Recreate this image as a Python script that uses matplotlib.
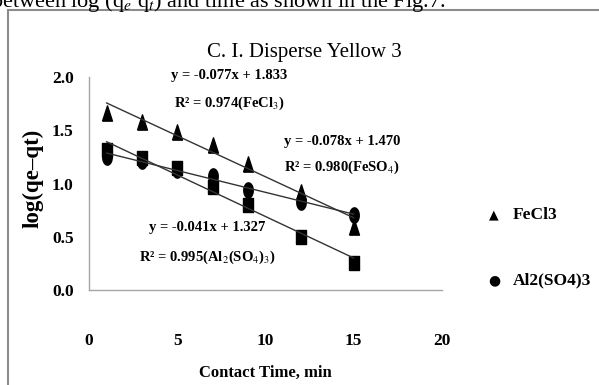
import numpy as np
import matplotlib
matplotlib.use("Agg")
import matplotlib.pyplot as plt
from matplotlib.lines import Line2D

# ---- data ----
time_min = [1, 3, 5, 7, 9, 12, 15]
fecl3 = [1.66, 1.58, 1.48, 1.36, 1.18, 0.92, 0.59]
al2so43 = [1.25, 1.21, 1.13, 1.07, 0.94, 0.83, 0.70]
feso4 = [1.31, 1.24, 1.15, 0.97, 0.80, 0.50, 0.25]

fit_fecl3 = (-0.077, 1.833)
fit_feso4 = (-0.078, 1.470)
fit_al = (-0.041, 1.327)
fit_range = [1, 15]

x_ticks = [0, 5, 10, 15, 20]
y_ticks = [0.0, 0.5, 1.0, 1.5, 2.0]

title = "C. I. Disperse Yellow 3"
xlabel = "Contact Time, min"
ylabel = "log(qe\u2013qt)"

W, H = 599, 385
fig = plt.figure(figsize=(W / 100, H / 100), dpi=100)
plt.rcParams['font.family'] = ['Liberation Serif', 'DejaVu Serif']
plt.rcParams['mathtext.fontset'] = 'stix'

ax = fig.add_axes([89 / W, 1 - 290 / H, 353 / W, 213 / H])
ax.set_xlim(0, 20)
ax.set_ylim(0, 2.0)

# tall markers (the original is horizontally compressed)
t = np.linspace(0, 2 * np.pi, 40)
ellipse = list(zip(0.62 * np.cos(t), np.sin(t)))
tri = [(-0.65, -1), (0.65, -1), (0, 1), (-0.65, -1)]
rect = [(-0.65, -1), (0.65, -1), (0.65, 1), (-0.65, 1), (-0.65, -1)]

xs = np.array(fit_range, dtype=float)
for (m, b) in (fit_fecl3, fit_feso4, fit_al):
    ax.plot(xs, m * xs + b, color='#333333', lw=1.0, zorder=3)

ax.plot(time_min, fecl3, ls='none', marker=tri, ms=11, color='black', zorder=2)
ax.plot(time_min, al2so43, ls='none', marker=ellipse, ms=11, color='black', zorder=2)
ax.plot(time_min, feso4, ls='none', marker=rect, ms=10, color='black', zorder=2)

for s in ('top', 'right'):
    ax.spines[s].set_visible(False)
for s in ('left', 'bottom'):
    ax.spines[s].set_color('#a6a6a6')
    ax.spines[s].set_linewidth(1.0)

ax.set_xticks(x_ticks)
ax.set_xticklabels([str(v) for v in x_ticks])
ax.set_yticks(y_ticks)
ax.set_yticklabels([f"{v:.1f}" for v in y_ticks])
ax.tick_params(axis='both', length=0, labelsize=12.5)
ax.tick_params(axis='y', pad=11)
ax.tick_params(axis='x', pad=31)
for lab in ax.get_xticklabels() + ax.get_yticklabels():
    lab.set_fontweight('bold')

def px(x, y):
    return (x / W, 1 - y / H)

fig.text(*px(304, 53), title, ha='center', va='center', fontsize=15)
fig.text(*px(265, 373), xlabel, ha='center', va='center', fontsize=12,
         fontweight='bold')
fig.text(*px(33, 178), ylabel, ha='center', va='center', rotation=90,
         fontsize=16.5, fontweight='bold')

ann_kw = dict(ha='center', va='center', fontsize=10.5, fontweight='bold')
fig.text(*px(229, 76), "y = -0.077x + 1.833", **ann_kw)
fig.text(*px(229, 103), "R\u00b2 = 0.974(FeCl$_3$)", **ann_kw)
fig.text(*px(342, 141), "y = -0.078x + 1.470", **ann_kw)
fig.text(*px(342, 167), "R\u00b2 = 0.980(FeSO$_4$)", **ann_kw)
fig.text(*px(207, 228), "y = -0.041x + 1.327", **ann_kw)
fig.text(*px(207, 257), "R\u00b2 = 0.995(Al$_2$(SO$_4$)$_3$)", **ann_kw)

# legend (only two entries visible)
fig.text(*px(494, 215), "\u25b2", ha='center', va='center', fontsize=9,
         family=['DejaVu Sans'])
fig.text(*px(513, 215), "FeCl3", ha='left', va='center', fontsize=12.5,
         fontweight='bold')
fig.text(*px(494, 280), "\u25cf", ha='center', va='center', fontsize=10,
         family=['DejaVu Sans'])
fig.text(*px(513, 280), "Al2(SO4)3", ha='left', va='center', fontsize=12.5,
         fontweight='bold')

# page context: clipped line of text and the gray frame
fig.text(-9 / W, 1 - 7 / H, "between log (q$_e$ q$_t$) and time as shown in the Fig.7.",
         ha='left', va='baseline', fontsize=16)
fig.add_artist(Line2D([8 / W, 1], [1 - 10 / H, 1 - 10 / H], color='#8c8c8c', lw=1.5))
fig.add_artist(Line2D([8 / W, 8 / W], [0, 1 - 10 / H], color='#8c8c8c', lw=1.5))

fig.savefig("out.png", dpi=100)
